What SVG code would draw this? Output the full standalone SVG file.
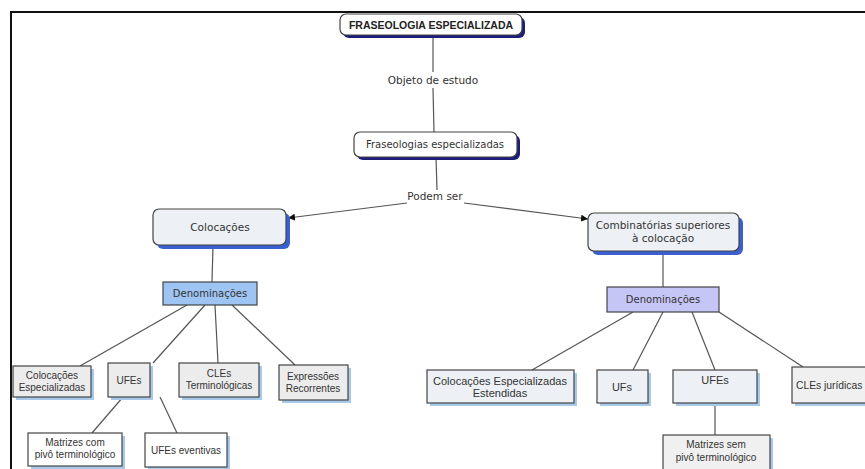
<svg xmlns="http://www.w3.org/2000/svg" width="865" height="469" viewBox="0 0 865 469">
<defs>
<marker id="arr" viewBox="0 0 10 10" refX="10" refY="5" markerWidth="7" markerHeight="7" orient="auto" markerUnits="userSpaceOnUse"><path d="M0,0 L10,5 L0,10 z" fill="#111"/></marker>
<style>
.t{font-family:"DejaVu Sans",Verdana,sans-serif;font-size:10px;fill:#333;text-anchor:middle}
.a{font-family:"Liberation Sans",Arial,sans-serif;font-size:11px;fill:#333;text-anchor:middle}
.s{font-family:"Liberation Sans",Arial,sans-serif;font-size:10px;fill:#333;text-anchor:middle}
.b{font-family:"Liberation Sans",Arial,sans-serif;font-size:10.5px;font-weight:bold;fill:#222;text-anchor:middle}
.c{stroke:#555;stroke-width:1.2;fill:none}
.bx{stroke:#444;stroke-width:1.2}
.sh1{fill:#1c1c7a}
.sh2{fill:#3a5fd0}
.sh3{fill:#a9c9ea}
</style>
</defs>
<rect width="865" height="469" fill="#fff"/>
<path d="M11,469 V12 H865" fill="none" stroke="#111" stroke-width="2"/>

<g id="connectors">
<line class="c" x1="433" y1="35" x2="433" y2="72"/>
<line class="c" x1="433" y1="88" x2="434" y2="132"/>
<line class="c" x1="436" y1="157" x2="437" y2="190"/>
<path class="c" d="M407,203 L288,218" stroke="#222" marker-end="url(#arr)"/>
<path class="c" d="M464,203 L588,219" stroke="#222" marker-end="url(#arr)"/>
<line class="c" x1="213" y1="245" x2="212" y2="282"/>
<line class="c" x1="663" y1="251" x2="663" y2="287"/>
<line class="c" x1="187" y1="305" x2="80" y2="366"/>
<line class="c" x1="205" y1="305" x2="153" y2="363"/>
<line class="c" x1="215" y1="305" x2="218" y2="363"/>
<line class="c" x1="232" y1="305" x2="295" y2="365"/>
<line class="c" x1="123" y1="397" x2="92" y2="433"/>
<line class="c" x1="160" y1="397" x2="177" y2="433"/>
<line class="c" x1="633" y1="312" x2="532" y2="370"/>
<line class="c" x1="663" y1="312" x2="633" y2="370"/>
<line class="c" x1="692" y1="312" x2="715" y2="370"/>
<line class="c" x1="719" y1="312" x2="803" y2="367"/>
<line class="c" x1="715" y1="403" x2="715" y2="435"/>
</g>

<g id="n-fraseologia">
<rect class="sh1" x="343" y="17" width="182" height="21" rx="6"/>
<rect class="bx" x="340" y="14" width="182" height="21" rx="6" fill="#fff"/>
<text class="b" x="431" y="28.5">FRASEOLOGIA ESPECIALIZADA</text>
</g>
<g id="l-objeto"><text class="t" x="433" y="84" style="font-size:10.5px">Objeto de estudo</text></g>
<g id="n-fraseologias">
<rect class="sh1" x="357" y="135" width="163" height="25" rx="6"/>
<rect class="bx" x="354" y="132" width="163" height="25" rx="6" fill="#fff"/>
<text class="t" x="435" y="148">Fraseologias especializadas</text>
</g>
<g id="l-podem"><text class="t" x="435" y="200" style="font-size:10.5px">Podem ser</text></g>
<g id="n-colocacoes">
<rect class="sh2" x="157" y="213" width="133" height="36" rx="6"/>
<rect class="bx" x="153" y="209" width="133" height="36" rx="6" fill="#edf1f5"/>
<text class="t" x="220" y="231" style="font-size:10.5px">Colocações</text>
</g>
<g id="n-combinatorias">
<rect class="sh2" x="592" y="217" width="151" height="38" rx="6"/>
<rect class="bx" x="588" y="213" width="151" height="38" rx="6" fill="#edf1f5"/>
<text class="t" x="663" y="229" style="font-size:10.5px">Combinatórias superiores</text>
<text class="t" x="663" y="242" style="font-size:10.5px">à colocação</text>
</g>
<g id="n-denom-left">
<rect class="bx" x="163" y="282" width="94" height="23" fill="#9dc4f2"/>
<text class="t" x="210" y="297">Denominações</text>
</g>
<g id="n-denom-right">
<rect class="bx" x="607" y="287" width="112" height="25" fill="#c6c6f6"/>
<text class="t" x="663" y="303">Denominações</text>
</g>

<g id="n-col-esp">
<rect class="sh3" x="16" y="369" width="78" height="31"/>
<rect class="bx" x="13" y="366" width="78" height="31" fill="#ececec"/>
<text class="s" x="52" y="379">Colocações</text>
<text class="s" x="52" y="391">Especializadas</text>
</g>
<g id="n-ufes-left">
<rect class="sh3" x="111" y="366" width="42" height="34"/>
<rect class="bx" x="108" y="363" width="42" height="34" fill="#ececec"/>
<text class="s" x="129" y="384">UFEs</text>
</g>
<g id="n-cles-term">
<rect class="sh3" x="182" y="366" width="80" height="34"/>
<rect class="bx" x="179" y="363" width="80" height="34" fill="#ececec"/>
<text class="s" x="219" y="377">CLEs</text>
<text class="s" x="219" y="389">Terminológicas</text>
</g>
<g id="n-expressoes">
<rect class="sh3" x="282" y="368" width="69" height="35"/>
<rect class="bx" x="279" y="365" width="69" height="35" fill="#ececec"/>
<text class="s" x="313" y="380">Expressões</text>
<text class="s" x="313" y="392">Recorrentes</text>
</g>
<g id="n-matrizes-com">
<rect class="sh3" x="31" y="436" width="94" height="33"/>
<rect class="bx" x="28" y="433" width="94" height="33" fill="#fff"/>
<text class="s" x="75" y="446">Matrizes com</text>
<text class="s" x="75" y="458">pivô terminológico</text>
</g>
<g id="n-ufes-eventivas">
<rect class="sh3" x="148" y="436" width="82" height="34"/>
<rect class="bx" x="145" y="433" width="82" height="34" fill="#fff"/>
<text class="s" x="186" y="454">UFEs eventivas</text>
</g>

<g id="n-col-esp-est">
<rect class="sh3" x="430" y="373" width="147" height="33"/>
<rect class="bx" x="427" y="370" width="147" height="33" fill="#edf1f5"/>
<text class="a" x="500" y="385">Colocações Especializadas</text>
<text class="a" x="500" y="397">Estendidas</text>
</g>
<g id="n-ufs">
<rect class="sh3" x="600" y="373" width="51" height="33"/>
<rect class="bx" x="597" y="370" width="51" height="33" fill="#edf1f5"/>
<text class="a" x="622" y="391">UFs</text>
</g>
<g id="n-ufes-right">
<rect class="sh3" x="676" y="373" width="84" height="33"/>
<rect class="bx" x="673" y="370" width="84" height="33" fill="#edf1f5"/>
<text class="a" x="715" y="384">UFEs</text>
</g>
<g id="n-cles-jur">
<rect class="sh3" x="795" y="370" width="80" height="36"/>
<rect class="bx" x="792" y="367" width="80" height="36" fill="#f0f0f0"/>
<text class="a" x="796" y="389" style="text-anchor:start;font-size:10.3px">CLEs jurídicas</text>
</g>
<g id="n-matrizes-sem">
<rect class="sh3" x="666" y="438" width="107" height="40"/>
<rect class="bx" x="663" y="435" width="107" height="40" fill="#f0f0f0"/>
<text class="s" x="716" y="448">Matrizes sem</text>
<text class="s" x="716" y="461">pivô terminológico</text>
</g>
</svg>
